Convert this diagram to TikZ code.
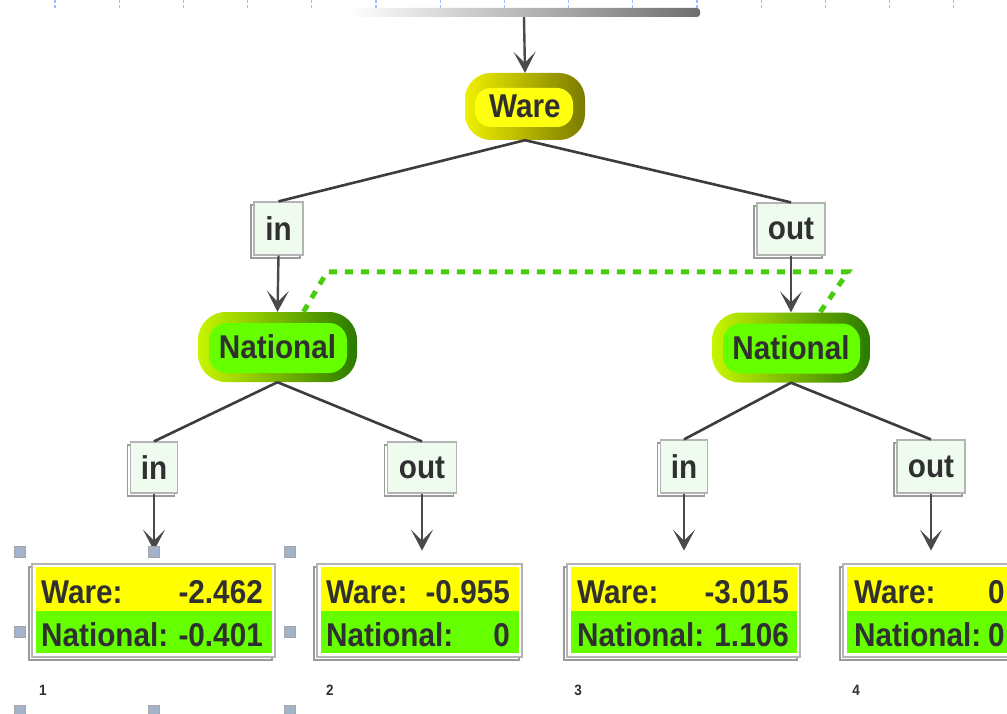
\documentclass[tikz,border=0pt]{standalone}
\usepackage{fontspec}
\newfontfamily\nf{Liberation Sans}[FakeStretch=0.9]
\usetikzlibrary{arrows.meta,shadows,calc}
\definecolor{wareL}{HTML}{F0F000}
\definecolor{wareR}{HTML}{7A7A00}
\definecolor{wareIn}{HTML}{FFFF10}
\definecolor{natL}{HTML}{C8F500}
\definecolor{natR}{HTML}{2A7A00}
\definecolor{natIn}{HTML}{66FF00}
\definecolor{mint}{HTML}{EFFBEF}
\definecolor{yel}{HTML}{FFFF00}
\definecolor{grn}{HTML}{66FF00}
\definecolor{lineC}{HTML}{3C3C3C}
\definecolor{arrC}{HTML}{4A4A4A}
\definecolor{dashC}{HTML}{4CCC10}
\definecolor{handleC}{HTML}{A4B4C8}
\definecolor{txtC}{HTML}{303030}
\definecolor{barR}{HTML}{6E6E6E}
\definecolor{guideC}{HTML}{A8B8FF}
\definecolor{frameC}{HTML}{B4B4B4}
\definecolor{shadC}{HTML}{9A9A9A}
\tikzset{
  bigfont/.style={font=\nf\bfseries\fontsize{33}{36}\selectfont, text=txtC},
  pillW/.style={bigfont, rounded corners=26pt, left color=wareL, right color=wareR,
    minimum width=120pt, minimum height=67pt, inner sep=0pt,
    path picture={\fill[wareIn, rounded corners=16pt]
      ([shift={(10pt,-15pt)}]path picture bounding box.north west) rectangle
      ([shift={(-12pt,13pt)}]path picture bounding box.south east);}},
  pillN/.style={bigfont, rounded corners=28pt, left color=natL, right color=natR,
    minimum height=70pt, inner sep=0pt,
    path picture={\fill[natIn, rounded corners=18pt]
      ([shift={(11pt,-11pt)}]path picture bounding box.north west) rectangle
      ([shift={(-10pt,9pt)}]path picture bounding box.south east);}},
  lbl/.style={bigfont, draw=frameC, fill=mint, line width=1.2pt, inner sep=0pt,
    drop shadow={shadow xshift=-3pt, shadow yshift=-3pt, opacity=1, fill=white, draw=shadC, line width=1.2pt}},
  leaf/.style={draw=frameC, fill=white, line width=1.2pt, inner sep=0pt, minimum height=93pt,
    drop shadow={shadow xshift=-3pt, shadow yshift=-3pt, opacity=1, fill=white, draw=shadC, line width=1.2pt},
    path picture={
      \fill[yel] ([shift={(4pt,-3pt)}]path picture bounding box.north west) rectangle
        ([shift={(-3pt,0pt)}]path picture bounding box.east);
      \fill[grn] ([shift={(4pt,0pt)}]path picture bounding box.west) rectangle
        ([shift={(-3pt,4pt)}]path picture bounding box.south east);}},
  ltxtL/.style={bigfont, anchor=base west, inner sep=0pt},
  ltxtR/.style={bigfont, anchor=base east, inner sep=0pt},
  conn/.style={draw=lineC, line width=2.6pt},
  arr/.style={draw=arrC, line width=2.4pt, -{Stealth[length=21pt,width=22pt,inset=11pt]}},
  dashG/.style={draw=dashC, line width=5pt, dash pattern=on 8pt off 8pt},
  handle/.style={draw=gray!70, fill=handleC, line width=0.8pt, minimum size=11pt, inner sep=0pt},
  num/.style={font=\nf\bfseries\fontsize{15}{17}\selectfont, text=txtC, inner sep=0pt},
  guide/.style={draw=guideC, line width=1.2pt, dash pattern=on 3pt off 2pt},
  rootbar/.style={minimum width=352pt, minimum height=9pt, inner sep=0pt,
    left color=white, right color=barR, rounded corners=3pt}
}
\begin{document}
\begin{tikzpicture}[x=1pt,y=-1pt]
\useasboundingbox (0,0) rectangle (1007,714);
\clip (0,0) rectangle (1007,714);
\fill[white] (0,0) rectangle (1007,714);
% guides
\foreach \i in {0,...,14} \draw[guide] ({55+64.2*\i},0) -- ({55+64.2*\i},8);
% root bar
\node[rootbar] (root) at (524,12.5) {};
% tree nodes
\node[pillW] (ware) at (525,106.5) {Ware};
\node[pillN, minimum width=159pt] (natL) at (277.5,347) {National};
\node[pillN, minimum width=158pt] (natR) at (791,347.5) {National};
\node[lbl, minimum width=49pt, minimum height=53pt] (inA) at (278.5,228.5) {in};
\node[lbl, minimum width=68pt, minimum height=52pt] (outA) at (791,229) {out};
\node[lbl, minimum width=47pt, minimum height=51pt] (inLL) at (154,467.5) {in};
\node[lbl, minimum width=69pt, minimum height=51pt] (outLR) at (422,467.5) {out};
\node[lbl, minimum width=47pt, minimum height=53pt] (inRL) at (684,466.5) {in};
\node[lbl, minimum width=68pt, minimum height=53pt] (outRR) at (931,466.5) {out};
% dashed link
\coordinate (dA) at (327,272);
\coordinate (dB) at (848,272);
\draw[dashG] ([xshift=26pt]natL.north) -- (dA) -- (dB) -- ([xshift=29pt]natR.north);
% connectors
\draw[arr] (root.south) -- (ware.north);
\draw[conn] (ware.south) -- (inA.north);
\draw[conn] (ware.south) -- (outA.north);
\draw[arr] (inA.south) -- (natL.north);
\draw[arr] (outA.south) -- (natR.north);
\draw[conn] (natL.south) -- (inLL.north);
\draw[conn] (natL.south) -- (outLR.north);
\draw[conn] (natR.south) -- (inRL.north);
\draw[conn] (natR.south) -- (outRR.north);
\draw[arr] (inLL.south) -- ++(0,57);
\draw[arr] (outLR.south) -- ++(0,57);
\draw[arr] (inRL.south) -- ++(0,57);
\draw[arr] (outRR.south) -- ++(0,57);
% leaves
\node[leaf, minimum width=243pt] (leaf1) at (153.5,610.5) {};
\node[leaf, minimum width=205pt] (leaf2) at (419.5,610.5) {};
\node[leaf, minimum width=233pt] (leaf3) at (683.5,610.5) {};
\node[leaf, minimum width=230pt] (leaf4) at (958,610.5) {};
\node[ltxtL] (w1) at (41,603) {Ware:};
\node[ltxtR] (w1v) at (263,603) {-2.462};
\node[ltxtL] (n1l) at (41,646) {National:};
\node[ltxtR] (n1v) at (263,646) {-0.401};
\node[ltxtL] (w2) at (326,603) {Ware:};
\node[ltxtR] (w2v) at (510,603) {-0.955};
\node[ltxtL] (n2l) at (326,646) {National:};
\node[ltxtR] (n2v) at (510,646) {0};
\node[ltxtL] (w3) at (577,603) {Ware:};
\node[ltxtR] (w3v) at (789,603) {-3.015};
\node[ltxtL] (n3l) at (577,646) {National:};
\node[ltxtR] (n3v) at (789,646) {1.106};
\node[ltxtL] (w4) at (854,603) {Ware:};
\node[ltxtL] (w4v) at (988,603) {0};
\node[ltxtL] (n4l) at (854,646) {National:};
\node[ltxtL] (n4v) at (988,646) {0};
% numbers
\node[num] (c1) at (43,690) {1};
\node[num] (c2) at (330,690) {2};
\node[num] (c3) at (578,690) {3};
\node[num] (c4) at (856,690) {4};
% selection handles
\node[handle] (h1) at (20,552) {};
\node[handle] (h2) at (154,552) {};
\node[handle] (h3) at (290,552) {};
\node[handle] (h4) at (20,632) {};
\node[handle] (h5) at (290,632) {};
\node[handle] (h6) at (20,711) {};
\node[handle] (h7) at (154,711) {};
\node[handle] (h8) at (290,711) {};
\end{tikzpicture}
\end{document}
